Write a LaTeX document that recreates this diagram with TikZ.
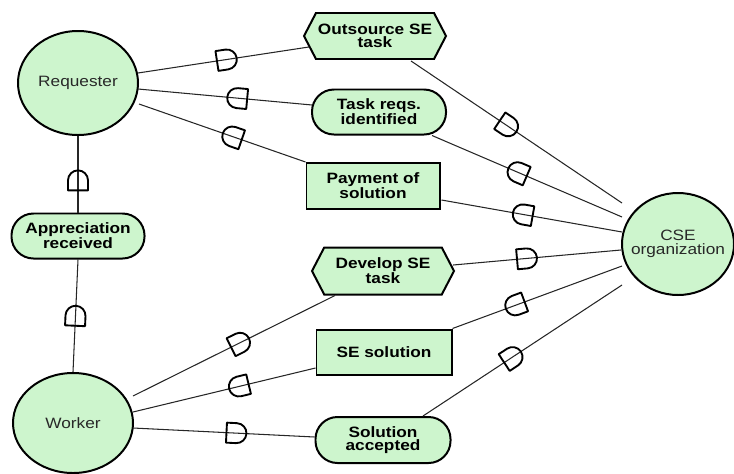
\documentclass[tikz,border=0pt]{standalone}
\usepackage{fontspec}
\usetikzlibrary{shapes.geometric,shapes.symbols,calc}
\newfontfamily\diagfont[FakeStretch=1.15]{Liberation Sans}
\definecolor{elemfill}{RGB}{205,245,205}
\definecolor{inkgray}{RGB}{40,40,40}

\tikzset{
  every node/.style={font=\diagfont\fontsize{12.8}{11.5}\selectfont, align=center, text=inkgray},
  labelfont/.style={font=\diagfont\bfseries\fontsize{12.8}{11.5}\selectfont, text=black},
  actor/.style={ellipse, draw=black, line width=1.7pt, fill=elemfill, inner sep=0pt},
  goal/.style={rectangle, rounded corners=0.66cm, draw=black, line width=1.7pt, fill=elemfill,
    inner sep=0pt, labelfont},
  resource/.style={rectangle, draw=black, line width=1.7pt, fill=elemfill, inner sep=0pt, labelfont},
  task/.style={signal, signal to=west and east, signal pointer angle=125, draw=black,
    line width=1.7pt, fill=elemfill, inner sep=0pt, labelfont},
  conn/.style={draw=black!85, line width=0.9pt},
  dm/.style={sloped, allow upside down},
  dmark/.style={draw=black, line width=1.6pt, line join=round},
  % dependency mark, curved side facing the end of the path
  dep/.pic={\draw[dmark] (-10,-10) -- (0,-10) .. controls (5.5,-10) and (10,-5.5) .. (10,0)
      .. controls (10,5.5) and (5.5,10) .. (0,10) -- (-10,10) -- cycle;},
  % dependency mark, curved side facing the start of the path
  depback/.pic={\draw[dmark] (10,-10) -- (0,-10) .. controls (-5.5,-10) and (-10,-5.5) .. (-10,0)
      .. controls (-10,5.5) and (-5.5,10) .. (0,10) -- (10,10) -- cycle;},
}

\begin{document}
\begin{tikzpicture}[x=0.03cm, y=-0.03cm]
\useasboundingbox (0,0) rectangle (734,473);

% actors
\node[actor, minimum width=3.6cm, minimum height=3.12cm] (req) at (78,83) {Requester};
\node[actor, minimum width=3.6cm, minimum height=3.0cm] (worker) at (73,423) {Worker};
\node[actor, inner sep=-0.25cm, minimum width=3.36cm, minimum height=3.06cm] (cse) at (678,244) {CSE\\organization};

% dependums
\node[goal, minimum width=3.99cm, minimum height=1.35cm] (appr) at (78,236) {Appreciation\\received};
\node[task, minimum width=4.26cm, minimum height=1.38cm] (outs) at (375,36) {Outsource SE\\task};
\node[goal, minimum width=4.02cm, minimum height=1.35cm] (treq) at (379,112) {Task reqs.\\identified};
\node[resource, minimum width=3.99cm, minimum height=1.38cm] (pay) at (373,186) {Payment of\\solution};
\node[task, minimum width=4.26cm, minimum height=1.41cm] (dev) at (383,271) {Develop SE\\task};
\node[resource, minimum width=4.05cm, minimum height=1.35cm] (sesol) at (384,352) {SE solution};
\node[goal, minimum width=4.05cm, minimum height=1.38cm] (acc) at (383,440) {Solution\\accepted};

% Requester side
\draw[conn] ($(req.center)+(60,-10)$) -- ($(outs.west)+(6,11)$) pic[dm, pos=0.52]{dep};
\draw[conn] ($(req.center)+(60,6)$) -- ($(treq.west)+(1,-7)$) pic[dm, pos=0.57]{depback};
\draw[conn] ($(req.center)+(61,21)$) -- (pay.north west) pic[dm, pos=0.56]{depback};
\draw[conn] (req.south) -- (appr.north) pic[dm, pos=0.58]{depback};
\draw[conn] (appr.south) -- (worker.north) pic[dm, pos=0.5]{depback};

% CSE organization side
\draw[conn] ($(outs.south)+(36,1)$) -- ($(cse.center)+(-56,-41)$) pic[dm, pos=0.46]{dep};
\draw[conn] ($(treq.south)+(53,0)$) -- ($(cse.center)+(-56,-27)$) pic[dm, pos=0.45]{depback};
\draw[conn] ($(pay.east)+(1,14)$) -- ($(cse.center)+(-56,-12)$) pic[dm, pos=0.45]{depback};
\draw[conn] ($(dev.east)+(-2,-6)$) -- ($(cse.center)+(-57,6)$) pic[dm, pos=0.44]{dep};
\draw[conn] (sesol.north east) -- ($(cse.center)+(-56,22)$) pic[dm, pos=0.37]{depback};
\draw[conn] ($(acc.north)+(40,0)$) -- ($(cse.center)+(-56,41)$) pic[dm, pos=0.45]{dep};

% Worker side
\draw[conn] ($(worker.center)+(60,-27)$) -- ($(dev.south)+(-48,0)$) pic[dm, pos=0.53]{dep};
\draw[conn] ($(worker.center)+(60,-11)$) -- ($(sesol.west)+(0,16)$) pic[dm, pos=0.58]{depback};
\draw[conn] ($(worker.center)+(60,5)$) -- ($(acc.west)+(0,-3)$) pic[dm, pos=0.57]{dep};
\end{tikzpicture}
\end{document}
